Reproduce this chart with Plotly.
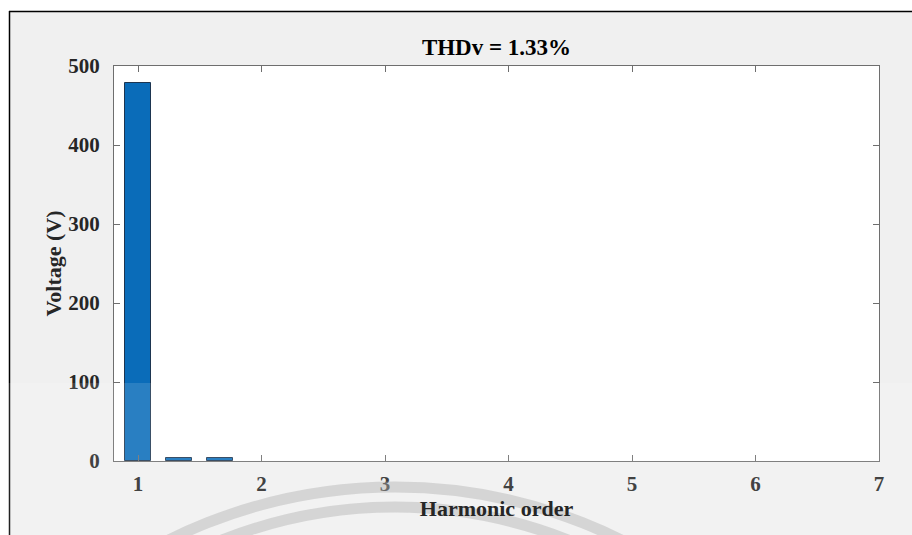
import plotly.graph_objects as go

# Harmonic spectrum of the output voltage
harmonic_order = [1, 1.333, 1.667]
voltage = [479, 4.2, 3.6]
x_ticks = [1, 2, 3, 4, 5, 6, 7]
y_ticks = [0, 100, 200, 300, 400, 500]
title_text = "THDv = 1.33%"
x_title = "Harmonic order"
y_title = "Voltage (V)"

W, H = 912, 535
L, R, T, B = 114, 33, 66, 74
FONT = "Liberation Serif, Times New Roman, serif"

fig = go.Figure(
    go.Bar(
        x=harmonic_order,
        y=voltage,
        width=0.21,
        marker=dict(color="#0a6cb9", line=dict(color="#1d3550", width=1)),
    )
)

axis_common = dict(
    showgrid=False,
    zeroline=False,
    showline=True,
    linecolor="#6e6e6e",
    linewidth=1,
    mirror="allticks",
    ticks="inside",
    ticklen=6,
    tickwidth=1,
    tickcolor="#6e6e6e",
    tickfont=dict(family=FONT, size=21, color="#262626", weight="bold"),
)

fig.update_xaxes(
    range=[0.805, 7],
    tickvals=x_ticks,
    ticklabelstandoff=4,
    title=dict(text=x_title, standoff=2,
               font=dict(family=FONT, size=22, color="#262626", weight="bold")),
    **axis_common,
)
fig.update_yaxes(
    range=[0, 500],
    tickvals=y_ticks,
    ticklabelstandoff=9,
    title=dict(text=y_title, standoff=0,
               font=dict(family=FONT, size=22, color="#262626", weight="bold")),
    **axis_common,
)


def px_x(p):
    return (p - L) / (W - L - R)


def px_y(p):
    return (H - B - p) / (H - T - B)


shapes = [
    # white page margin above and to the left of the framed figure
    dict(type="rect", xref="paper", yref="paper", layer="below",
         x0=px_x(0), x1=px_x(W), y0=px_y(11), y1=px_y(0),
         fillcolor="white", line_width=0),
    dict(type="rect", xref="paper", yref="paper", layer="below",
         x0=px_x(0), x1=px_x(9), y0=px_y(H), y1=px_y(0),
         fillcolor="white", line_width=0),
    # figure frame
    dict(type="line", xref="paper", yref="paper", x0=px_x(9), x1=px_x(W + 5),
         y0=px_y(11.5), y1=px_y(11.5), line=dict(color="black", width=1.5)),
    dict(type="line", xref="paper", yref="paper", x0=px_x(9.5), x1=px_x(9.5),
         y0=px_y(11), y1=px_y(H + 5), line=dict(color="black", width=1.5)),
    # light band across the lower part
    dict(type="rect", xref="paper", yref="paper", layer="above",
         x0=px_x(0), x1=px_x(W), y0=px_y(H), y1=px_y(383),
         fillcolor="rgba(255,255,255,0.13)", line_width=0),
]

# decorative grey arcs near the bottom
for cx, cy, r in [(395, 996, 509), (395, 976, 469)]:
    shapes.append(dict(
        type="circle", xref="paper", yref="paper", layer="above",
        x0=px_x(cx - r), x1=px_x(cx + r), y0=px_y(cy + r), y1=px_y(cy - r),
        line=dict(color="rgba(170,170,170,0.4)", width=11),
        fillcolor="rgba(0,0,0,0)",
    ))

fig.update_layout(
    width=W,
    height=H,
    margin=dict(l=L, r=R, t=T, b=B),
    paper_bgcolor="#f0f0f0",
    plot_bgcolor="white",
    showlegend=False,
    bargap=0,
    title=dict(text=title_text, x=(L + (W - L - R) / 2) / W,
               xanchor="center", y=1 - 47 / H, yanchor="middle",
               font=dict(family=FONT, size=23, color="black", weight="bold")),
    shapes=shapes,
)

fig.write_html("out.html")
